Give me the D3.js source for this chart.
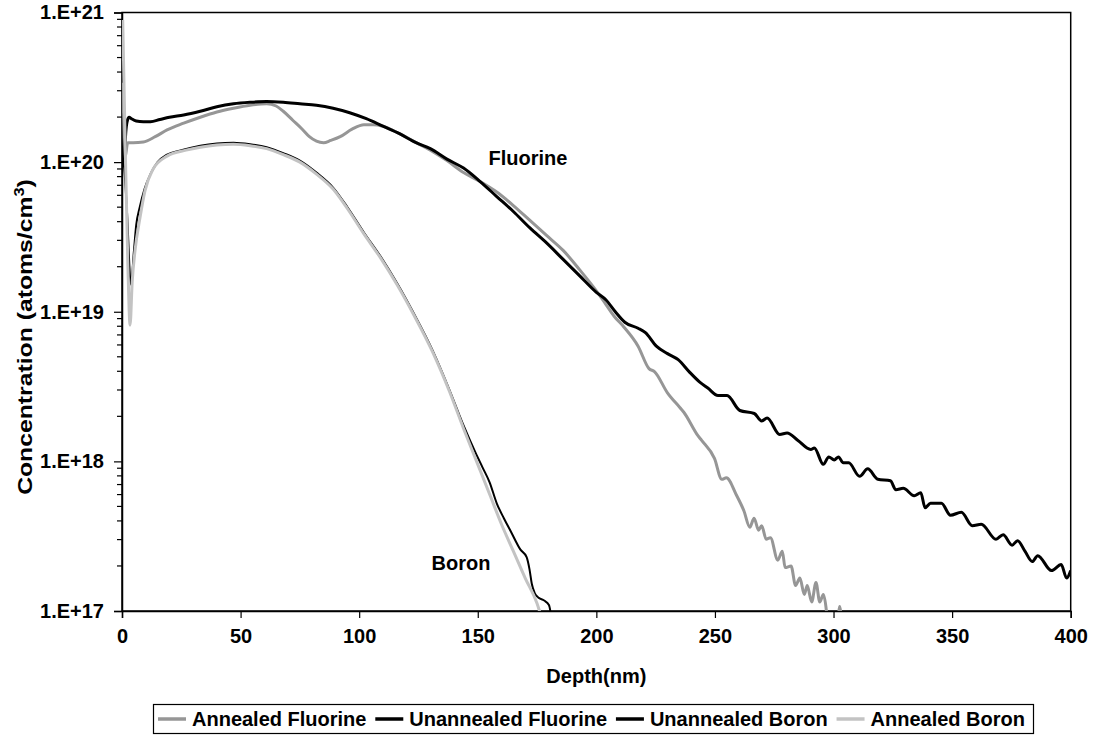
<!DOCTYPE html>
<html lang="en">
<head>
    <meta charset="UTF-8">
    <title>Fluorine and Boron depth profiles</title>
    <script src="https://d3js.org/d3.v7.min.js"></script>
    <style>
        body { margin: 0; background: #fff; }
        text {
            font-family: "Liberation Sans", Arial, sans-serif;
            font-weight: bold;
            fill: #000;
        }
    </style>
</head>
<body>
    <script>
        const width = 1094;
        const height = 736;

        // [depth (nm), log10 concentration (atoms/cm3)]
        const annealedFluorine = [
            [0, 20.53], [0.6, 20.35], [1.3, 20.03], [2.4, 20.13], [4.7, 20.13], [9, 20.135],
            [14, 20.17], [19, 20.215], [26, 20.26], [33, 20.30], [40, 20.335], [47, 20.36],
            [54, 20.38], [61, 20.39], [65, 20.375], [68, 20.34], [72, 20.28], [76, 20.22],
            [79, 20.17], [82, 20.14], [85, 20.13], [88, 20.145], [92, 20.17], [97, 20.22],
            [102, 20.25], [106, 20.25], [110, 20.24], [117, 20.19], [124, 20.13], [130, 20.08],
            [137, 20.01], [144, 19.93], [151, 19.87], [158, 19.80], [165, 19.71], [172, 19.61],
            [179, 19.51], [186, 19.41], [193, 19.28], [200, 19.14], [204, 19.05], [207.5, 18.97],
            [211.5, 18.90], [217.6, 18.77], [222.2, 18.62], [224.5, 18.60], [229.9, 18.46],
            [235.2, 18.36], [236.8, 18.33], [242.9, 18.17], [244.4, 18.14], [249.8, 18.02],
            [252.9, 17.88], [254.8, 17.89], [259.2, 17.77], [262.2, 17.67], [264.7, 17.56],
            [266.5, 17.62], [268.4, 17.54], [269.7, 17.57], [271.6, 17.48], [273.4, 17.49],
            [276.5, 17.34], [278.4, 17.40], [279.6, 17.29], [282.1, 17.30], [284.0, 17.17],
            [285.8, 17.22], [287.7, 17.11], [288.9, 17.17], [290.8, 17.06], [292.6, 17.19],
            [294.2, 17.06], [295.7, 17.11], [297, 17.0], [297.8, 16.85], [301.4, 16.85],
            [302.6, 17.03], [303.7, 16.85]
        ];

        const unannealedFluorine = [
            [1, 20.0], [1.6, 20.2], [2.3, 20.28], [3, 20.30], [4, 20.29], [6, 20.275], [9, 20.27],
            [12, 20.27], [16, 20.285], [20, 20.30], [26, 20.315], [33, 20.34], [40, 20.37],
            [47, 20.39], [54, 20.40], [61, 20.405], [68, 20.40], [75, 20.39], [82, 20.38],
            [89, 20.36], [96, 20.33], [103, 20.29], [110, 20.24], [117, 20.19], [124, 20.13],
            [130, 20.09], [137, 20.02], [144, 19.96], [151, 19.87], [158, 19.77], [165, 19.67],
            [172, 19.56], [179, 19.46], [186, 19.35], [193, 19.24], [200, 19.13], [204, 19.08],
            [208, 19.0], [212, 18.93], [217.6, 18.89], [220.7, 18.86], [225.3, 18.77], [230, 18.72],
            [234.5, 18.68], [239.1, 18.60], [243.6, 18.53], [247, 18.49], [251.3, 18.44],
            [255.1, 18.44], [260.5, 18.34], [266.6, 18.32], [269.7, 18.27], [272, 18.29],
            [277.3, 18.18], [280.4, 18.19], [285, 18.14], [290.4, 18.08], [291.9, 18.09],
            [295.7, 17.98], [298, 18.03], [300.3, 18.01], [302.1, 18.03], [304.1, 17.99],
            [306.4, 17.99], [311, 17.90], [314.4, 17.95], [318.7, 17.88], [324, 17.87],
            [326.3, 17.81], [329.4, 17.82], [334, 17.77], [336.8, 17.79], [338.6, 17.69],
            [340.9, 17.72], [345.5, 17.72], [349.3, 17.64], [353.9, 17.66], [358.5, 17.57],
            [362.3, 17.58], [368.5, 17.48], [371.5, 17.51], [375.3, 17.44], [377.6, 17.47],
            [380.7, 17.40], [383.8, 17.33], [386.1, 17.37], [391.9, 17.27], [396, 17.31],
            [398.3, 17.22], [400, 17.27]
        ];

        const unannealedBoron = [
            [0, 20.05], [1, 19.95], [2, 19.7], [3.8, 19.18], [5, 19.4], [6, 19.58], [7.5, 19.7],
            [9.5, 19.82], [12, 19.92], [15, 20.0], [19, 20.05], [25, 20.08], [33, 20.11],
            [40, 20.125], [47, 20.13], [54, 20.12], [61, 20.10], [68, 20.06], [75, 20.01],
            [82, 19.93], [89, 19.83], [95, 19.70], [102, 19.53], [109, 19.37], [116, 19.19],
            [123, 18.99], [131, 18.74], [138, 18.48], [144, 18.24], [149, 18.06], [152, 17.96],
            [155, 17.86], [158, 17.72], [161, 17.62], [164, 17.53], [168, 17.41], [170.6, 17.36],
            [171.8, 17.28], [172.8, 17.18], [174, 17.12], [175.5, 17.09], [178, 17.07],
            [180, 17.04], [181.5, 16.9]
        ];

        const annealedBoron = [
            [0.3, 20.95], [1.5, 20.0], [2.5, 19.3], [3.4, 18.91], [4.3, 19.2], [5.5, 19.41],
            [7.6, 19.63], [9.7, 19.81], [13, 19.95], [19, 20.04], [27, 20.08], [33, 20.10],
            [40, 20.115], [47, 20.12], [54, 20.11], [61, 20.09], [68, 20.05], [75, 20.0],
            [82, 19.92], [89, 19.82], [95, 19.69], [102, 19.52], [109, 19.36], [116, 19.18],
            [123, 18.98], [131, 18.73], [138, 18.47], [144, 18.22], [150, 17.98], [155, 17.78],
            [160, 17.58], [165, 17.40], [170, 17.22], [175, 17.05], [177, 16.95]
        ];

        const xTicks = [0, 50, 100, 150, 200, 250, 300, 350, 400];
        const yTicks = [1e17, 1e18, 1e19, 1e20, 1e21];
        const yTickLabels = ["1.E+17", "1.E+18", "1.E+19", "1.E+20", "1.E+21"];

        const series = [
            {name: "Annealed Fluorine", data: annealedFluorine, color: "#969696", width: 3},
            {name: "Unannealed Fluorine", data: unannealedFluorine, color: "#000", width: 3},
            {name: "Unannealed Boron", data: unannealedBoron, color: "#000", width: 2},
            {name: "Annealed Boron", data: annealedBoron, color: "#c3c3c3", width: 3}
        ];

        const margin = {left: 122, right: 23.3, top: 12.5, bottom: 125};
        const plotW = width - margin.left - margin.right;
        const plotH = height - margin.top - margin.bottom;
        const fontSize = 20;

        const x = d3.scaleLinear().domain([0, 400]).range([0, plotW]);
        const y = d3.scaleLog().domain([1e17, 1e21]).range([plotH, 0]);

        const svg = d3.select("body").append("svg")
            .attr("width", width)
            .attr("height", height);

        svg.append("defs").append("clipPath")
            .attr("id", "plot-clip")
            .append("rect")
            .attr("width", plotW)
            .attr("height", plotH);

        const g = svg.append("g")
            .attr("transform", `translate(${margin.left},${margin.top})`);

        // frame
        g.append("rect")
            .attr("width", plotW)
            .attr("height", plotH)
            .attr("fill", "none")
            .attr("stroke", "#000")
            .attr("stroke-width", 1.5);

        // x axis
        const xAxis = g.append("g")
            .attr("transform", `translate(0,${plotH})`)
            .call(d3.axisBottom(x).tickValues(xTicks).tickSize(7).tickPadding(11));
        xAxis.select(".domain").attr("stroke-width", 1.5);
        xAxis.selectAll("line").attr("stroke-width", 1.2);
        xAxis.selectAll("text").attr("font-size", fontSize).attr("font-family", null);

        // y axis minor ticks
        const minor = [];
        for (let e = 17; e < 21; e++) {
            for (let m = 2; m <= 9; m++) minor.push(m * Math.pow(10, e));
        }
        g.append("g").selectAll("line")
            .data(minor)
            .join("line")
            .attr("x1", -5)
            .attr("x2", 0)
            .attr("y1", d => y(d))
            .attr("y2", d => y(d))
            .attr("stroke", "#000")
            .attr("stroke-width", 1.2);

        const yAxis = g.append("g")
            .call(d3.axisLeft(y).tickValues(yTicks).tickSize(8).tickPadding(10)
                .tickFormat((d, i) => yTickLabels[i]));
        yAxis.select(".domain").attr("stroke-width", 1.5);
        yAxis.selectAll("line").attr("stroke-width", 1.2);
        yAxis.selectAll("text").attr("font-size", fontSize).attr("font-family", null);

        // curves
        const line = d3.line()
            .x(d => x(d[0]))
            .y(d => y(Math.pow(10, d[1])))
            .curve(d3.curveMonotoneX);

        g.append("g")
            .attr("clip-path", "url(#plot-clip)")
            .selectAll("path")
            .data(series)
            .join("path")
            .attr("d", d => line(d.data))
            .attr("fill", "none")
            .attr("stroke", d => d.color)
            .attr("stroke-width", d => d.width)
            .attr("stroke-linejoin", "round");

        // annotations
        g.append("text")
            .attr("x", x(154.5))
            .attr("y", y(9.6e19))
            .attr("font-size", fontSize)
            .text("Fluorine");
        g.append("text")
            .attr("x", x(130.5))
            .attr("y", y(1.88e17))
            .attr("font-size", fontSize)
            .text("Boron");

        // axis titles
        svg.append("text")
            .attr("x", margin.left + plotW / 2)
            .attr("y", 683)
            .attr("text-anchor", "middle")
            .attr("font-size", fontSize)
            .text("Depth(nm)");

        const yTitle = svg.append("text")
            .attr("text-anchor", "middle")
            .attr("font-size", 21);
        yTitle.append("tspan").text("Concentration (atoms/cm");
        yTitle.append("tspan").attr("dy", -8).attr("font-size", 14).text("3");
        yTitle.append("tspan").attr("dy", 8).text(")");
        const titleLen = yTitle.node().getComputedTextLength();
        yTitle.attr("transform", `translate(32,337) rotate(-90) scale(${316 / titleLen},1)`);

        // legend
        const legend = svg.append("g");
        legend.append("rect")
            .attr("x", 153.5)
            .attr("y", 704.5)
            .attr("width", 880)
            .attr("height", 29)
            .attr("fill", "#fff")
            .attr("stroke", "#000")
            .attr("stroke-width", 1.2);

        const swatch = 28;
        const swGap = 6;
        const items = series.map(s => {
            const t = legend.append("text")
                .attr("y", 726)
                .attr("font-size", fontSize)
                .text(s.name);
            return {s, t, w: t.node().getComputedTextLength()};
        });
        const startX = 158;
        const endX = 1025;
        const used = d3.sum(items, d => d.w + swatch + swGap);
        const itemGap = (endX - startX - used) / (items.length - 1);
        let lx = startX;
        items.forEach(d => {
            legend.append("line")
                .attr("x1", lx)
                .attr("x2", lx + swatch)
                .attr("y1", 719)
                .attr("y2", 719)
                .attr("stroke", d.s.color)
                .attr("stroke-width", 3.5);
            d.t.attr("x", lx + swatch + swGap);
            lx += swatch + swGap + d.w + itemGap;
        });
    </script>
</body>
</html>
